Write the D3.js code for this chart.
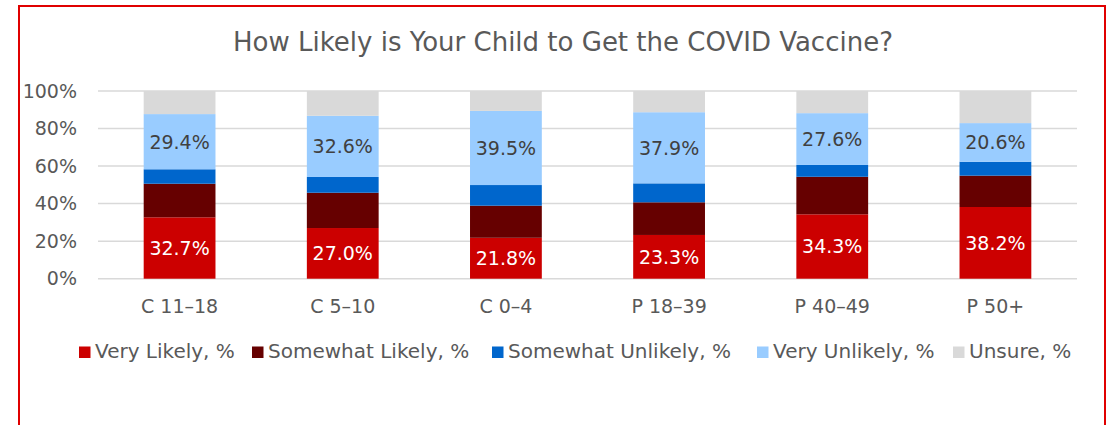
<!DOCTYPE html>
<html><head><meta charset="utf-8">
<script src="https://cdn.jsdelivr.net/npm/d3@7"></script>
<style>
html,body{margin:0;padding:0;background:#fff;}
svg text{font-family:"DejaVu Sans",sans-serif;}
</style></head>
<body><svg id="c" width="1107" height="425"></svg>
<script>
const categories = ["C 11–18","C 5–10","C 0–4","P 18–39","P 40–49","P 50+"];
const seriesNames = ["Very Likely, %","Somewhat Likely, %","Somewhat Unlikely, %","Very Unlikely, %","Unsure, %"];
const veryLikely = [32.7,27.0,21.8,23.3,34.3,38.2];
const somewhatLikely = [17.9,18.8,17.1,17.4,20.0,16.7];
const somewhatUnlikely = [7.7,8.4,11.0,10.1,6.3,7.4];
const veryUnlikely = [29.4,32.6,39.5,37.9,27.6,20.6];
const unsure = [12.3,13.2,10.6,11.3,11.8,17.1];
const yTicks = [0,20,40,60,80,100];
const colors = ["#CC0000","#660000","#0066CC","#99CCFF","#D9D9D9"];

const svg = d3.select("#c");
// border
svg.append("rect").attr("x",19).attr("y",6).attr("width",1086).attr("height",440)
  .attr("fill","none").attr("stroke","#E00000").attr("stroke-width",2);

const x = d3.scaleBand().domain(categories).range([98,1077]).paddingInner(0.56).paddingOuter(0.28);
const y = d3.scaleLinear().domain([0,100]).range([278.7,91]);

svg.append("text").attr("x",563).attr("y",51).attr("text-anchor","middle")
  .attr("fill","#595959").style("font-size","26px").text("How Likely is Your Child to Get the COVID Vaccine?");

// gridlines
svg.append("g").selectAll("line").data(yTicks).join("line")
  .attr("x1",98).attr("x2",1077).attr("y1",d=>y(d)).attr("y2",d=>y(d))
  .attr("stroke","#D9D9D9").attr("stroke-width",1.5);

// y axis labels
const yAxis = d3.axisLeft(y).tickValues(yTicks).tickFormat(d=>d+"%").tickSize(0).tickPadding(0);
const ya = svg.append("g").attr("transform","translate(77,0)").call(yAxis);
ya.select(".domain").remove();
ya.selectAll("text").attr("fill","#595959").style("font-size","19px").style("font-family","DejaVu Sans");

// stack
const rows = categories.map((c,i)=>({cat:c, s0:veryLikely[i], s1:somewhatLikely[i], s2:somewhatUnlikely[i], s3:veryUnlikely[i], s4:unsure[i]}));
const stack = d3.stack().keys(["s0","s1","s2","s3","s4"])(rows);
const g = svg.append("g");
stack.forEach((layer,li)=>{
  g.append("g").selectAll("rect").data(layer).join("rect")
    .attr("x",d=>x(d.data.cat)).attr("width",x.bandwidth())
    .attr("y",d=>y(d[1])).attr("height",d=>y(d[0])-y(d[1]))
    .attr("fill",colors[li]);
});
// labels
[[0,"#FFFFFF"],[3,"#404040"]].forEach(([li,col])=>{
  g.append("g").selectAll("text").data(stack[li]).join("text")
    .attr("x",d=>x(d.data.cat)+x.bandwidth()/2).attr("y",d=>(y(d[0])+y(d[1]))/2)
    .attr("dy","0.36em").attr("text-anchor","middle").attr("fill",col)
    .style("font-size","19px").text(d=>(d[1]-d[0]).toFixed(1)+"%");
});

// x axis labels
const xAxis = d3.axisBottom(x).tickSize(0).tickPadding(0);
const xa = svg.append("g").attr("transform","translate(0,313)").call(xAxis);
xa.select(".domain").remove();
xa.selectAll("text").attr("fill","#595959").style("font-size","19px").style("font-family","DejaVu Sans").attr("dy","0").attr("y",0);

// legend
const legX = [79,252,492,757,953];
const leg = svg.append("g").selectAll("g").data(seriesNames).join("g")
  .attr("transform",(d,i)=>`translate(${legX[i]},346.5)`);
leg.append("rect").attr("width",11.5).attr("height",11.5).attr("fill",(d,i)=>colors[i]);
leg.append("text").attr("x",16).attr("y",11.3).attr("fill","#595959")
  .style("font-size","20px").text(d=>d);
</script></body></html>
